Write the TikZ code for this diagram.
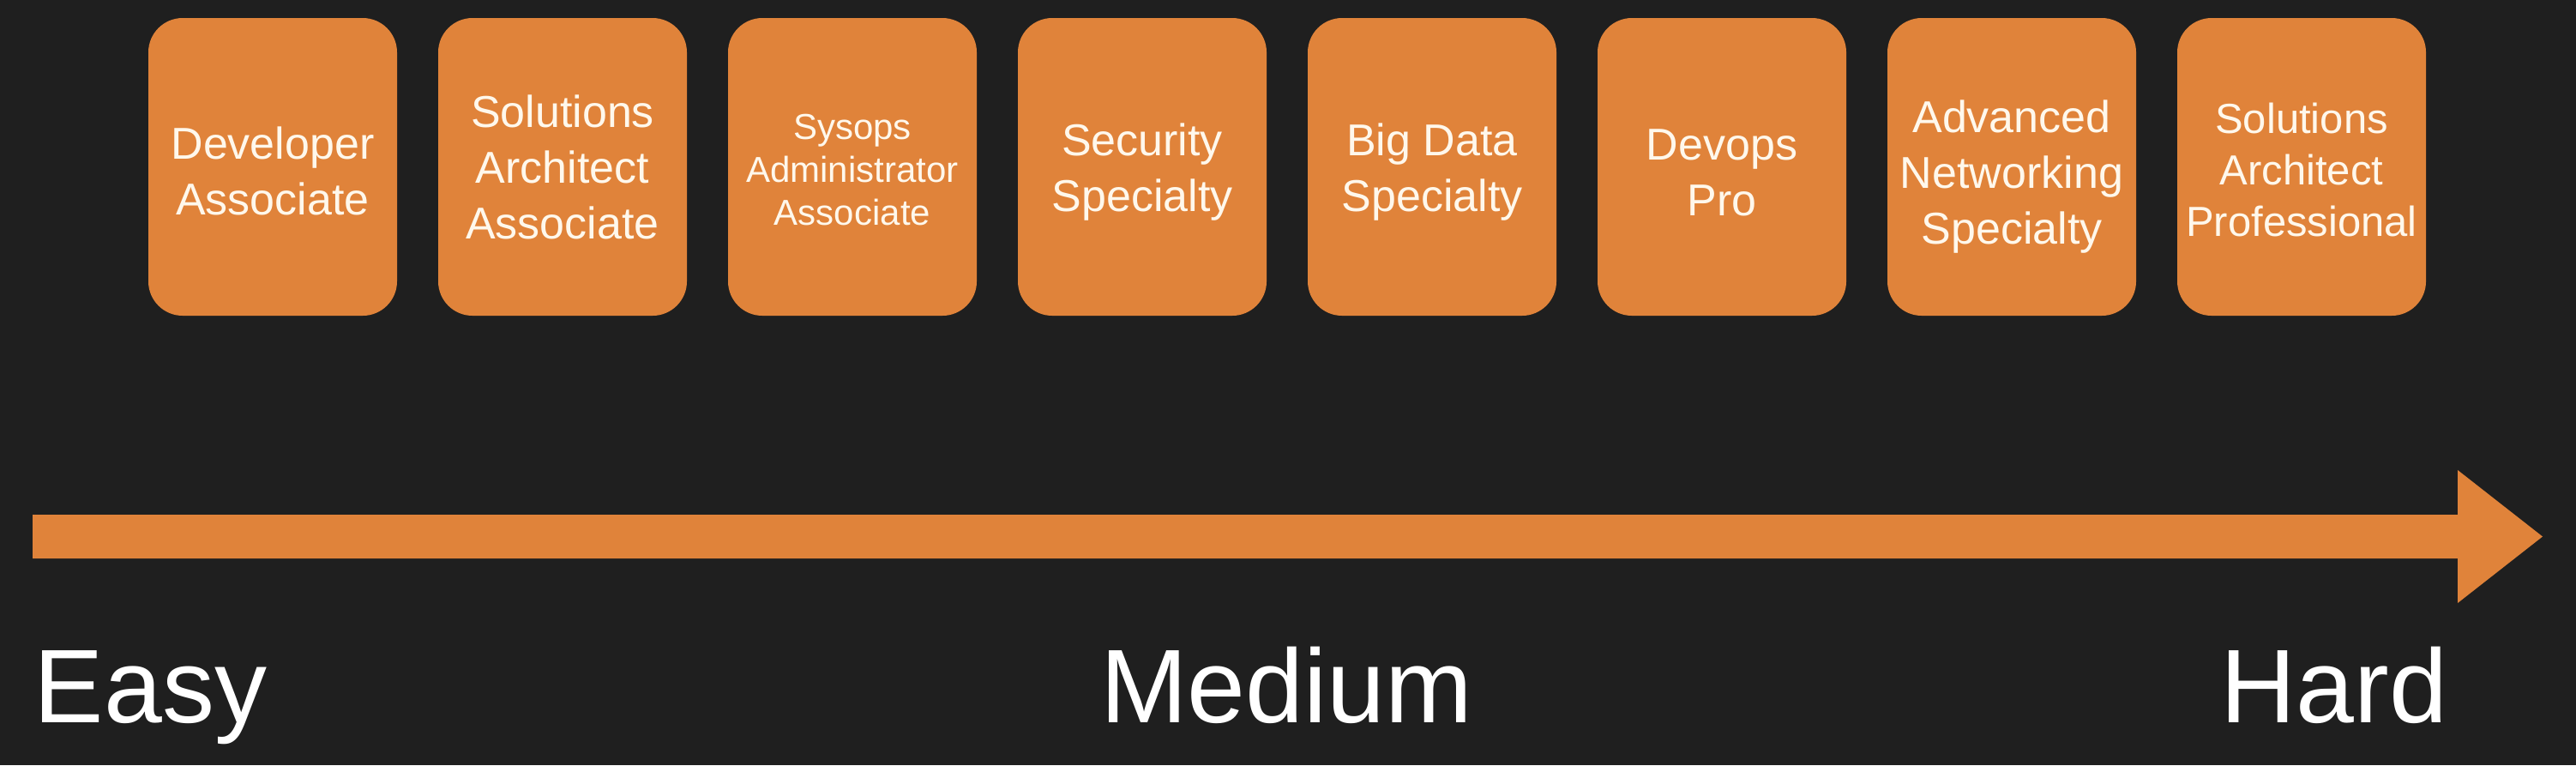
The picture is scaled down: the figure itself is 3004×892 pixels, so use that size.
\documentclass[tikz,border=0pt]{standalone}
\usepackage{fontspec}
\setmainfont{Liberation Sans}
\usetikzlibrary{positioning}
\definecolor{awsorange}{RGB}{224,131,58}
\definecolor{slidebg}{RGB}{31,31,31}
\definecolor{boxtext}{RGB}{255,248,236}
\tikzset{certbox/.style={fill=awsorange,rounded corners=10pt,minimum width=72.5pt,minimum height=86.75pt,
        inner sep=0,outer sep=0,align=center,text=boxtext,font=\fontsize{13pt}{16.25pt}\selectfont,node distance=12pt},
    smallcert/.style={font=\fontsize{10.5pt}{12.5pt}\selectfont},
    procert/.style={font=\fontsize{12.25pt}{15pt}\selectfont},
    levellabel/.style={inner sep=0,text=white,font=\fontsize{30.5pt}{36pt}\selectfont}
}
% invisible strut above the first line, pushes the text block down a little
\newcommand{\topgap}[1]{\rule{0pt}{#1}}
\begin{document}
\begin{tikzpicture}[x=0.25pt,y=-0.25pt]

\fill [slidebg] (0,0) rectangle (3004,892);
\useasboundingbox (0,0) rectangle (3004,892);

\node (devassoc) [certbox] at (318,194.5) {\topgap{12pt}Developer\\Associate};
\node (saassoc) [certbox,right=of devassoc] {Solutions\\Architect\\Associate};
\node (sysassoc) [certbox,smallcert,right=of saassoc] {\topgap{9pt}Sysops\\Administrator\\Associate};
\node (secspec) [certbox,right=of sysassoc] {\topgap{12.5pt}Security\\Specialty};
\node (bigdata) [certbox,right=of secspec] {\topgap{12.5pt}Big Data\\Specialty};
\node (devopspro) [certbox,right=of bigdata] {\topgap{12.5pt}Devops\\Pro};
\node (netspec) [certbox,right=of devopspro] {\topgap{15pt}Advanced\\Networking\\Specialty};
\node (sapro) [certbox,procert,right=of netspec] {\topgap{10.5pt}Solutions\\Architect\\Professional};

% difficulty arrow
\fill [awsorange] (38,600) -- (2866,600) -- (2866,548) -- (2965,625.5) -- (2866,703) -- (2866,651) -- (38,651) -- cycle;

\node (easy) [levellabel,anchor=base west] at (39,842) {Easy};
\node (medium) [levellabel,anchor=base] at (1500,842) {Medium};
\node (hard) [levellabel,anchor=base east] at (2855,842) {Hard};

\end{tikzpicture}
\end{document}
